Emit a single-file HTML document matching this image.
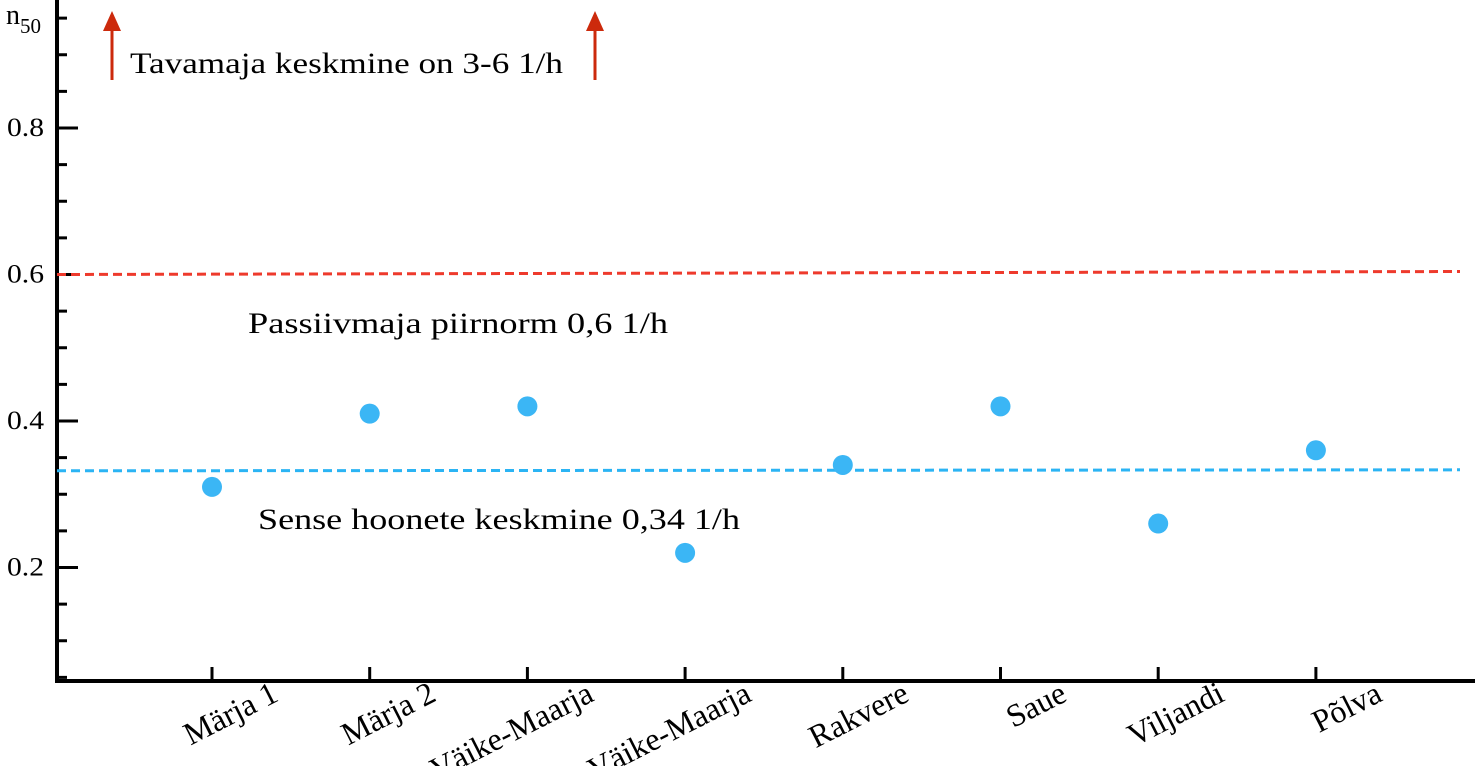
<!DOCTYPE html>
<html><head><meta charset="utf-8"><style>
html,body{margin:0;padding:0;background:#fff;}
svg{display:block;font-family:"Liberation Serif",serif;}
</style></head><body>
<svg id="chart" width="1484" height="766" xmlns="http://www.w3.org/2000/svg">
<g id="axes"></g><g id="marks"></g>
</svg>
<script>
const categories=["Märja 1","Märja 2","Väike-Maarja","Väike-Maarja","Rakvere","Saue","Viljandi","Põlva"];
const values=[0.31,0.41,0.42,0.22,0.34,0.42,0.26,0.36];
const yTickLabels=[0.2,0.4,0.6,0.8];
const passiveNorm=0.6;
const senseAvg=0.332;
const NS="http://www.w3.org/2000/svg";
const y=v=>714-v*732.5;
const x=i=>212+i*157.7;
const ax=document.getElementById('axes');
const mk=document.getElementById('marks');
function el(t,a,p,txt){const e=document.createElementNS(NS,t);for(const k in a)e.setAttribute(k,a[k]);if(txt!==undefined)e.textContent=txt;p.appendChild(e);return e;}
let e=el('line',{x1:57,y1:0,x2:57,y2:683,stroke:'#000','stroke-width':4},ax);


e=el('line',{x1:55,y1:681,x2:1475,y2:681,stroke:'#000','stroke-width':4},ax);


for(let k=1;k<=19;k++){const v=k*0.05;const major=Math.abs(v*10-Math.round(v*10))<1e-6&&Math.round(v*10)%2===0;
 e=el('line',{x1:57,y1:y(v),x2:major?78:67,y2:y(v),stroke:'#000','stroke-width':3},ax);
 
 }
yTickLabels.forEach(v=>{e=el('text',{x:44,y:y(v)+8,'text-anchor':'end','font-size':26,fill:'#000',textLength:37,lengthAdjust:'spacingAndGlyphs'},ax,v.toFixed(1));
 
 });
e=el('text',{x:6,y:24,'font-size':28,fill:'#000'},ax,'n');


el('tspan',{dy:9,'font-size':21},e,'50');
categories.forEach((c,i)=>{
 e=el('line',{x1:x(i),y1:667,x2:x(i),y2:681,stroke:'#000','stroke-width':3},ax);
 
 
 e=el('text',{x:0,y:0,'text-anchor':'end','font-size':32,fill:'#000',transform:`translate(${x(i)+68},${700}) rotate(-27)`},ax,c);
 
 
});
e=el('line',{x1:57,y1:y(passiveNorm),x2:1460,y2:y(passiveNorm)-3,stroke:'#ee3a2c','stroke-width':3,'stroke-dasharray':'9,5'},mk);


e=el('line',{x1:57,y1:y(senseAvg),x2:1460,y2:y(senseAvg)-1,stroke:'#2bb4f4','stroke-width':3,'stroke-dasharray':'9,5'},mk);


values.forEach((v,i)=>{e=el('circle',{cx:x(i),cy:y(v),r:10,fill:'#3bb6f5'},mk);
 
 });
e=el('text',{x:248,y:333,'font-size':30,fill:'#000',textLength:420,lengthAdjust:'spacingAndGlyphs'},mk,'Passiivmaja piirnorm 0,6  1/h');


e=el('text',{x:258,y:529,'font-size':30,fill:'#000',textLength:482,lengthAdjust:'spacingAndGlyphs'},mk,'Sense hoonete keskmine  0,34 1/h');


e=el('text',{x:130,y:73,'font-size':30,fill:'#000',textLength:433,lengthAdjust:'spacingAndGlyphs'},mk,'Tavamaja keskmine on 3-6 1/h');


[112,595].forEach(ax2=>{
 const g=el('g',{},mk);
 
 
 el('line',{x1:ax2,y1:80,x2:ax2,y2:28,stroke:'#cc2a0c','stroke-width':3},g);
 el('polygon',{points:`${ax2-9},31 ${ax2+9},31 ${ax2},11`,fill:'#cc2a0c'},g);
});
</script>
</body></html>
